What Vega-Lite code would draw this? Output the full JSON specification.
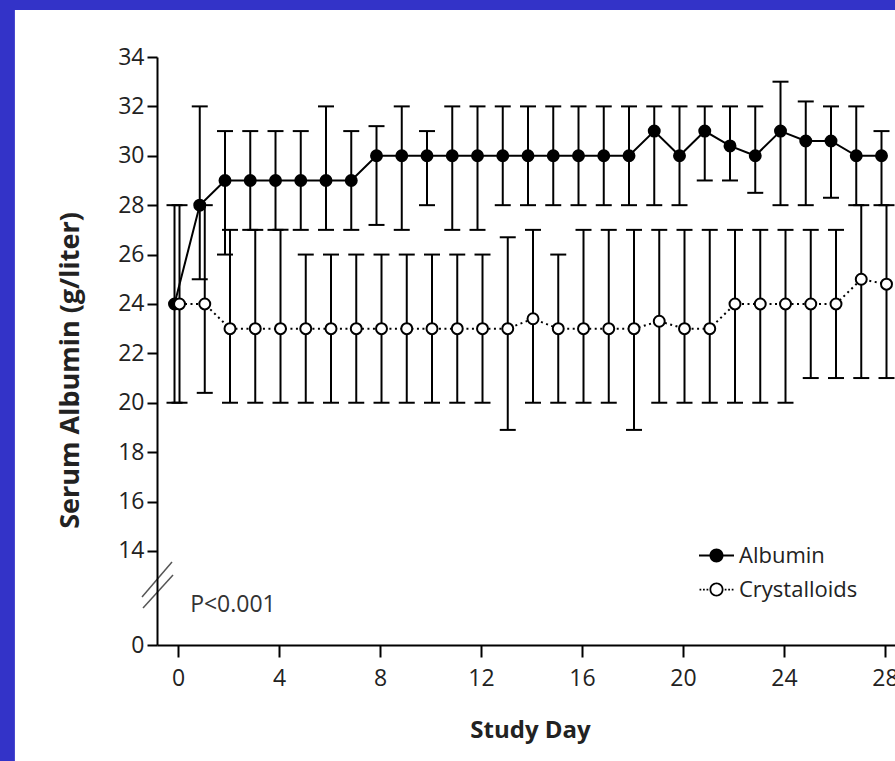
{
  "$schema": "https://vega.github.io/schema/vega-lite/v6.json",
  "width": 738,
  "height": 588,
  "autosize": {"type": "none"},
  "padding": {"left": 157, "top": 57, "right": 0, "bottom": 116},
  "background": "#3333c8",
  "config": {
    "font": "Open Sans",
    "view": {"stroke": null},
    "axis": {
      "grid": false, "domainColor": "black", "domainWidth": 2,
      "tickColor": "black", "tickWidth": 2, "labelColor": "#222", "labelFont": "Open Sans",
      "labelFontSize": 23, "titleFont": "Open Sans", "titleFontSize": 24, "titleFontWeight": "bold",
      "titleColor": "#222", "labelFlush": false
    }
  },
  "datasets": {
    "serum": [
      {"group": "Albumin", "day": 0, "mean": 24, "lo": 20, "hi": 28},
      {"group": "Albumin", "day": 1, "mean": 28, "lo": 25, "hi": 32},
      {"group": "Albumin", "day": 2, "mean": 29, "lo": 26, "hi": 31},
      {"group": "Albumin", "day": 3, "mean": 29, "lo": 27, "hi": 31},
      {"group": "Albumin", "day": 4, "mean": 29, "lo": 27, "hi": 31},
      {"group": "Albumin", "day": 5, "mean": 29, "lo": 27, "hi": 31},
      {"group": "Albumin", "day": 6, "mean": 29, "lo": 27, "hi": 32},
      {"group": "Albumin", "day": 7, "mean": 29, "lo": 27, "hi": 31},
      {"group": "Albumin", "day": 8, "mean": 30, "lo": 27.2, "hi": 31.2},
      {"group": "Albumin", "day": 9, "mean": 30, "lo": 27, "hi": 32},
      {"group": "Albumin", "day": 10, "mean": 30, "lo": 28, "hi": 31},
      {"group": "Albumin", "day": 11, "mean": 30, "lo": 27, "hi": 32},
      {"group": "Albumin", "day": 12, "mean": 30, "lo": 27, "hi": 32},
      {"group": "Albumin", "day": 13, "mean": 30, "lo": 28, "hi": 32},
      {"group": "Albumin", "day": 14, "mean": 30, "lo": 28, "hi": 32},
      {"group": "Albumin", "day": 15, "mean": 30, "lo": 28, "hi": 32},
      {"group": "Albumin", "day": 16, "mean": 30, "lo": 28, "hi": 32},
      {"group": "Albumin", "day": 17, "mean": 30, "lo": 28, "hi": 32},
      {"group": "Albumin", "day": 18, "mean": 30, "lo": 28, "hi": 32},
      {"group": "Albumin", "day": 19, "mean": 31, "lo": 28, "hi": 32},
      {"group": "Albumin", "day": 20, "mean": 30, "lo": 28, "hi": 32},
      {"group": "Albumin", "day": 21, "mean": 31, "lo": 29, "hi": 32},
      {"group": "Albumin", "day": 22, "mean": 30.4, "lo": 29, "hi": 32},
      {"group": "Albumin", "day": 23, "mean": 30, "lo": 28.5, "hi": 32},
      {"group": "Albumin", "day": 24, "mean": 31, "lo": 28, "hi": 33},
      {"group": "Albumin", "day": 25, "mean": 30.6, "lo": 28, "hi": 32.2},
      {"group": "Albumin", "day": 26, "mean": 30.6, "lo": 28.3, "hi": 32},
      {"group": "Albumin", "day": 27, "mean": 30, "lo": 28, "hi": 32},
      {"group": "Albumin", "day": 28, "mean": 30, "lo": 28, "hi": 31},
      {"group": "Crystalloids", "day": 0, "mean": 24, "lo": 20, "hi": 28},
      {"group": "Crystalloids", "day": 1, "mean": 24, "lo": 20.4, "hi": 28},
      {"group": "Crystalloids", "day": 2, "mean": 23, "lo": 20, "hi": 27},
      {"group": "Crystalloids", "day": 3, "mean": 23, "lo": 20, "hi": 27},
      {"group": "Crystalloids", "day": 4, "mean": 23, "lo": 20, "hi": 27},
      {"group": "Crystalloids", "day": 5, "mean": 23, "lo": 20, "hi": 26},
      {"group": "Crystalloids", "day": 6, "mean": 23, "lo": 20, "hi": 26},
      {"group": "Crystalloids", "day": 7, "mean": 23, "lo": 20, "hi": 26},
      {"group": "Crystalloids", "day": 8, "mean": 23, "lo": 20, "hi": 26},
      {"group": "Crystalloids", "day": 9, "mean": 23, "lo": 20, "hi": 26},
      {"group": "Crystalloids", "day": 10, "mean": 23, "lo": 20, "hi": 26},
      {"group": "Crystalloids", "day": 11, "mean": 23, "lo": 20, "hi": 26},
      {"group": "Crystalloids", "day": 12, "mean": 23, "lo": 20, "hi": 26},
      {"group": "Crystalloids", "day": 13, "mean": 23, "lo": 18.9, "hi": 26.7},
      {"group": "Crystalloids", "day": 14, "mean": 23.4, "lo": 20, "hi": 27},
      {"group": "Crystalloids", "day": 15, "mean": 23, "lo": 20, "hi": 26},
      {"group": "Crystalloids", "day": 16, "mean": 23, "lo": 20, "hi": 27},
      {"group": "Crystalloids", "day": 17, "mean": 23, "lo": 20, "hi": 27},
      {"group": "Crystalloids", "day": 18, "mean": 23, "lo": 18.9, "hi": 27},
      {"group": "Crystalloids", "day": 19, "mean": 23.3, "lo": 20, "hi": 27},
      {"group": "Crystalloids", "day": 20, "mean": 23, "lo": 20, "hi": 27},
      {"group": "Crystalloids", "day": 21, "mean": 23, "lo": 20, "hi": 27},
      {"group": "Crystalloids", "day": 22, "mean": 24, "lo": 20, "hi": 27},
      {"group": "Crystalloids", "day": 23, "mean": 24, "lo": 20, "hi": 27},
      {"group": "Crystalloids", "day": 24, "mean": 24, "lo": 20, "hi": 27},
      {"group": "Crystalloids", "day": 25, "mean": 24, "lo": 21, "hi": 27},
      {"group": "Crystalloids", "day": 26, "mean": 24, "lo": 21, "hi": 27},
      {"group": "Crystalloids", "day": 27, "mean": 25, "lo": 21, "hi": 28},
      {"group": "Crystalloids", "day": 28, "mean": 24.8, "lo": 21, "hi": 28}
    ]
  },
  "data": {"name": "serum"},
  "layer": [
    {
      "data": {"values": [{}]},
      "mark": {"type": "rect", "fill": "white"},
      "encoding": {
        "x": {"datum": -6.46, "type": "quantitative",
              "scale": {"domain": [-0.832, 28.396], "nice": false, "zero": false},
              "axis": {"title": "Study Day", "values": [0, 4, 8, 12, 16, 20, 24, 28], "format": "d", "zindex": 1,
                       "tickSize": 12, "labelPadding": 10, "titleX": 373, "titleY": 85,
                       "titleBaseline": "middle", "titleAlign": "center"}},
        "x2": {"datum": 40},
        "y": {"datum": 35.9, "type": "quantitative",
              "scale": {"domain": [10.19, 34], "nice": false, "zero": false},
              "axis": {"title": "Serum Albumin (g/liter)", "zindex": 1, "titleFontSize": 27,
                       "values": [10.19, 14, 16, 18, 20, 22, 24, 26, 28, 30, 32, 34], "format": "d",
                       "labelExpr": "datum.value < 12 ? '0' : datum.label",
                       "tickSize": 10, "labelPadding": 3, "titleX": -87, "titleY": 313,
                       "titleBaseline": "middle", "titleAlign": "center", "titleAngle": -90}},
        "y2": {"datum": 0}
      }
    },
    {
      "transform": [{"filter": "datum.group === 'Crystalloids'"}],
      "mark": {"type": "rule", "strokeWidth": 2, "color": "black", "xOffset": 1.5},
      "encoding": {
        "x": {"field": "day", "type": "quantitative", "scale": {"domain": [-0.832, 28.396], "nice": false, "zero": false}},
        "y": {"field": "lo", "type": "quantitative", "scale": {"domain": [10.19, 34], "nice": false, "zero": false}},
        "y2": {"field": "hi"}
      }
    },
    {
      "transform": [{"filter": "datum.group === 'Crystalloids'"}, {"fold": ["lo", "hi"], "as": ["bound", "value"]}],
      "mark": {"type": "tick", "orient": "horizontal", "size": 16, "thickness": 2, "color": "black", "opacity": 1, "xOffset": 1.5},
      "encoding": {
        "x": {"field": "day", "type": "quantitative", "scale": {"domain": [-0.832, 28.396], "nice": false, "zero": false}},
        "y": {"field": "value", "type": "quantitative", "scale": {"domain": [10.19, 34], "nice": false, "zero": false}}
      }
    },
    {
      "transform": [{"filter": "datum.group === 'Albumin'"}],
      "mark": {"type": "rule", "strokeWidth": 2, "color": "black", "xOffset": -3.5},
      "encoding": {
        "x": {"field": "day", "type": "quantitative", "scale": {"domain": [-0.832, 28.396], "nice": false, "zero": false}},
        "y": {"field": "lo", "type": "quantitative", "scale": {"domain": [10.19, 34], "nice": false, "zero": false}},
        "y2": {"field": "hi"}
      }
    },
    {
      "transform": [{"filter": "datum.group === 'Albumin'"}, {"fold": ["lo", "hi"], "as": ["bound", "value"]}],
      "mark": {"type": "tick", "orient": "horizontal", "size": 16, "thickness": 2, "color": "black", "opacity": 1, "xOffset": -3.5},
      "encoding": {
        "x": {"field": "day", "type": "quantitative", "scale": {"domain": [-0.832, 28.396], "nice": false, "zero": false}},
        "y": {"field": "value", "type": "quantitative", "scale": {"domain": [10.19, 34], "nice": false, "zero": false}}
      }
    },
    {
      "transform": [{"filter": "datum.group === 'Albumin'"}],
      "mark": {"type": "line", "strokeWidth": 2, "color": "black", "xOffset": -3.5},
      "encoding": {
        "x": {"field": "day", "type": "quantitative", "scale": {"domain": [-0.832, 28.396], "nice": false, "zero": false}},
        "y": {"field": "mean", "type": "quantitative", "scale": {"domain": [10.19, 34], "nice": false, "zero": false}}
      }
    },
    {
      "transform": [{"filter": "datum.group === 'Crystalloids'"}],
      "mark": {"type": "line", "strokeWidth": 2, "color": "black", "strokeDash": [2, 3.5], "xOffset": 1.5},
      "encoding": {
        "x": {"field": "day", "type": "quantitative", "scale": {"domain": [-0.832, 28.396], "nice": false, "zero": false}},
        "y": {"field": "mean", "type": "quantitative", "scale": {"domain": [10.19, 34], "nice": false, "zero": false}}
      }
    },
    {
      "transform": [{"filter": "datum.group === 'Albumin'"}],
      "mark": {"type": "point", "filled": true, "shape": "circle", "size": 120, "fill": "black", "stroke": "black", "strokeWidth": 2, "opacity": 1, "xOffset": -3.5},
      "encoding": {
        "x": {"field": "day", "type": "quantitative", "scale": {"domain": [-0.832, 28.396], "nice": false, "zero": false}},
        "y": {"field": "mean", "type": "quantitative", "scale": {"domain": [10.19, 34], "nice": false, "zero": false}}
      }
    },
    {
      "transform": [{"filter": "datum.group === 'Crystalloids'"}],
      "mark": {"type": "point", "filled": true, "shape": "circle", "size": 120, "fill": "white", "stroke": "black", "strokeWidth": 2, "opacity": 1, "xOffset": 1.5},
      "encoding": {
        "x": {"field": "day", "type": "quantitative", "scale": {"domain": [-0.832, 28.396], "nice": false, "zero": false}},
        "y": {"field": "mean", "type": "quantitative", "scale": {"domain": [10.19, 34], "nice": false, "zero": false}}
      }
    },
    {
      "mark": {"type": "point", "filled": true, "color": "black", "size": 1225, "opacity": 0},
      "encoding": {
        "x": {"field": "day", "type": "quantitative", "scale": {"domain": [-0.832, 28.396], "nice": false, "zero": false}},
        "y": {"field": "mean", "type": "quantitative", "scale": {"domain": [10.19, 34], "nice": false, "zero": false}},
        "shape": {"field": "group", "type": "nominal",
                  "scale": {"domain": ["Albumin", "Crystalloids"],
                            "range": ["M-1,-0.057H1V0.057H-1ZM0.4,0A0.4,0.4,0,1,1,-0.4,0A0.4,0.4,0,1,1,0.4,0Z",
                                      "M0.4,0A0.4,0.4,0,1,1,-0.4,0A0.4,0.4,0,1,1,0.4,0ZM0.3,0A0.3,0.3,0,1,0,-0.3,0A0.3,0.3,0,1,0,0.3,0ZM-0.97,-0.05h0.1v0.1h-0.1ZM-0.77,-0.05h0.1v0.1h-0.1ZM-0.57,-0.05h0.1v0.1h-0.1ZM0.47,-0.05h0.1v0.1h-0.1ZM0.67,-0.05h0.1v0.1h-0.1ZM0.87,-0.05h0.1v0.1h-0.1Z"]},
                  "legend": {"orient": "none", "legendX": 541, "legendY": 480, "title": null, "padding": 0,
                            "rowPadding": 4, "labelOffset": 4, "labelFontSize": 22, "labelFont": "Open Sans",
                            "labelColor": "#222", "labelLimit": 400, "symbolSize": 1225, "symbolOpacity": 1,
                            "symbolFillColor": "black"}}
      }
    },
    {
      "data": {"values": [{}]},
      "mark": {"type": "rule", "stroke": "#555", "strokeWidth": 1.5},
      "encoding": {
        "x": {"datum": -1.426, "type": "quantitative"}, "x2": {"datum": -0.238},
        "y": {"datum": 12.138, "type": "quantitative"}, "y2": {"datum": 13.555}
      }
    },
    {
      "data": {"values": [{}]},
      "mark": {"type": "rule", "stroke": "#555", "strokeWidth": 1.5},
      "encoding": {
        "x": {"datum": -1.386, "type": "quantitative"}, "x2": {"datum": -0.198},
        "y": {"datum": 11.692, "type": "quantitative"}, "y2": {"datum": 13.028}
      }
    },
    {
      "data": {"values": [{}]},
      "mark": {"type": "text", "text": "P<0.001", "align": "left", "baseline": "middle", "fontSize": 23, "font": "Open Sans", "color": "#333"},
      "encoding": {
        "x": {"datum": 0.48, "type": "quantitative"},
        "y": {"datum": 11.8, "type": "quantitative"}
      }
    }
  ]
}
